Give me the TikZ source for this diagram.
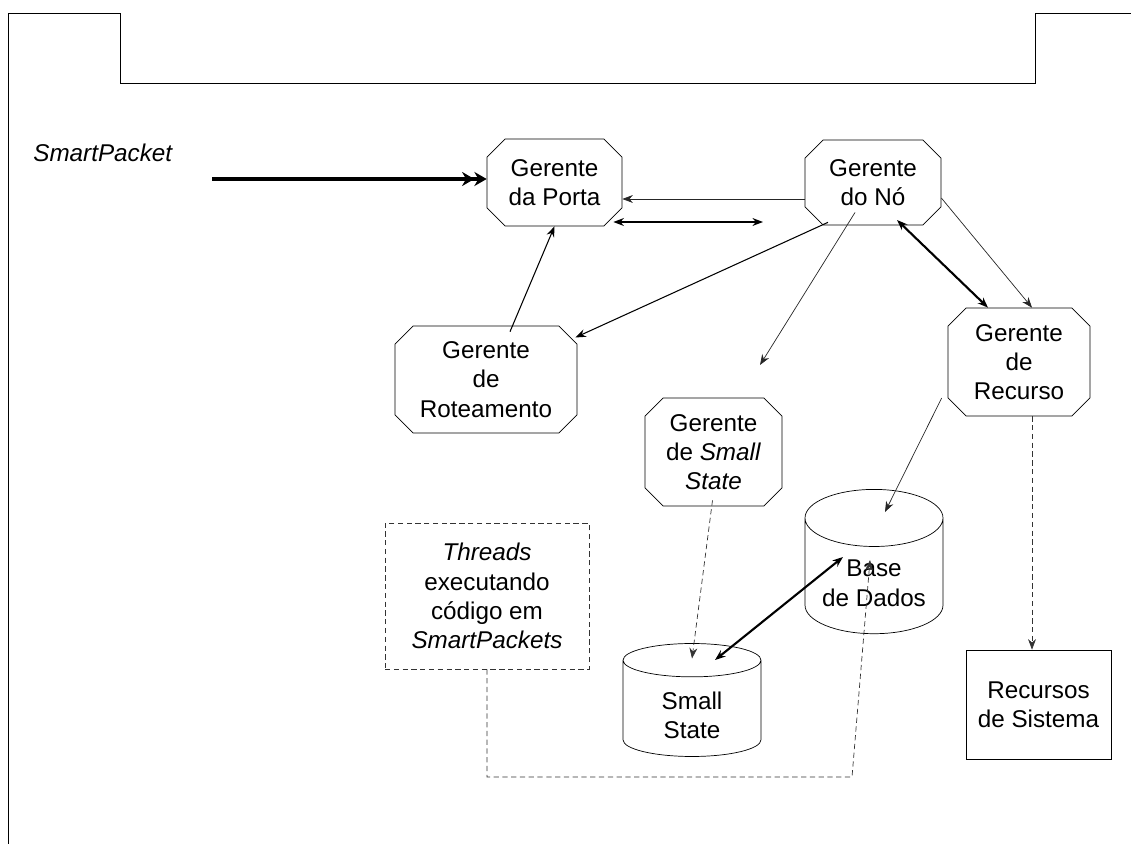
\documentclass[tikz,border=0pt]{standalone}
\usepackage{fontspec}
\setmainfont{Liberation Sans}
\usepackage{tikz}
\usetikzlibrary{arrows.meta,calc,positioning,shapes.misc,shapes.geometric}
\newcommand{\baixo}[1]{\raisebox{-5.5pt}[\height][\depth]{\begin{tabular}{@{}c@{}}#1\end{tabular}}}

\begin{document}
\begin{tikzpicture}[x=0.02cm,y=-0.02cm,
  >={Stealth[length=6pt,width=4.5pt]},
  every node/.style={font=\fontsize{13.8}{16.6}\selectfont,align=center,inner sep=0pt},
  gerente/.style={draw,chamfered rectangle,chamfered rectangle xsep=0.24cm},
  banco/.style={draw,cylinder,shape border rotate=90,aspect=0.55},
  fino/.style={thin,black!85},
  medio/.style={semithick},
  grosso/.style={very thick},
  tracejado/.style={thin,densely dashed,draw=black!80}]
  \useasboundingbox (0,0) rectangle (1131,844);
  \draw[thin] (8,844) -- (8,13) -- (120,13) -- (120,83) -- (1035,83) -- (1035,13) -- (1131,13);
  \node[anchor=west,font=\fontsize{13.8}{16.6}\selectfont\itshape] (sp) at (33,153) {SmartPacket};
  \node[gerente,minimum width=2.70cm,minimum height=1.74cm] (porta) at (554.5,182.5) {Gerente\\da Porta};
  \node[gerente,minimum width=2.72cm,minimum height=1.70cm] (no) at (873,182.5) {Gerente\\do Nó};
  \node[gerente,minimum width=3.64cm,minimum height=2.14cm] (rot) at (486,379.5) {Gerente\\de\\Roteamento};
  \node[gerente,minimum width=2.84cm,minimum height=2.16cm] (recurso) at (1019,362) {Gerente\\de\\Recurso};
  \node[gerente,minimum width=2.74cm,minimum height=2.16cm] (ssger) at (713.5,452) {Gerente\\de \textit{Small}\\\textit{State}};
  \node[tracejado,minimum width=4.08cm,minimum height=2.92cm] (threads) at (487,596) {\textit{Threads}\\executando\\código em\\\textit{SmartPackets}};
  \node[banco,minimum width=2.76cm,minimum height=2.26cm] (sstate) at (692,708.5) {\baixo{Small\\State}};
  \node[banco,minimum width=2.76cm,minimum height=2.56cm] (base) at (874,576) {\baixo{Base\\de Dados}};
  \node[draw,minimum width=2.90cm,minimum height=2.18cm] (recsis) at (1038.5,704.5) {Recursos\\de Sistema};

  \coordinate (spini) at (212,179);
  \coordinate (pfim) at (763,222);
  \coordinate (nfim) at (760,365);
  \coordinate (tb) at (852,777);
  \draw[line width=2.2pt,-{Stealth[length=7pt,width=8pt] Stealth[length=7pt,width=8pt]}] (spini) -- (spini -| porta.west);
  \draw[fino,->] ([yshift=-0.33cm]no.west) -- ([yshift=-0.33cm]porta.east);
  \draw[thick,<->] ($(porta.east |- pfim)+(-9,0)$) -- (pfim);
  \draw[medio,->] ($(rot.north)+(24,6)$) -- (porta.south);
  \draw[medio,->] ($(no.south)+(-45,-3)$) -- ($(rot.east)+(-2,-42)$);
  \draw[fino,->] ($(no.center)+(-18,30)$) -- (nfim);
  \draw[grosso,<->] ($(no.center)+(24,37.5)$) -- ($(recurso.north)+(-31,0)$);
  \draw[fino,->] ($(no.east)+(0,15.5)$) -- ($(recurso.north)+(13,0)$);
  \draw[fino,->] ($(recurso.west)+(-6,36)$) -- ($(base.center)+(11,-64)$);
  \coordinate (rr) at ($(recurso.south)+(13,0)$);
  \draw[tracejado,->] (rr) -- (rr |- recsis.north);
  \draw[tracejado,->] ($(ssger.south)+(-1,-6)$) -- ($(sstate.center)+(0,-50)$);
  \draw[grosso,<->] ($(sstate.center)+(23,-48.5)$) -- ($(base.center)+(-31,-19)$);
  \draw[tracejado,->] (threads.south) |- (tb) -- ($(base.center)+(-4,-16)$);
\end{tikzpicture}
\end{document}
